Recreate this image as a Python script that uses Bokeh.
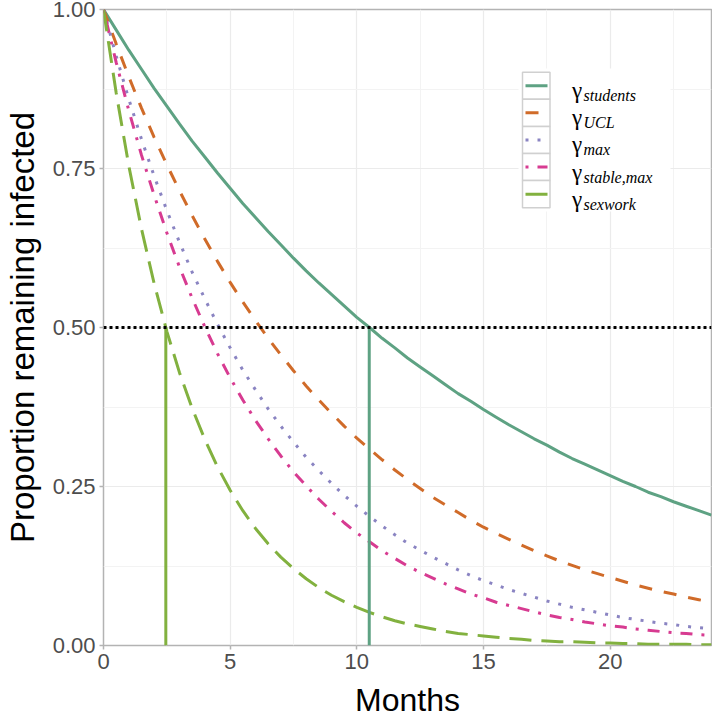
from bokeh.plotting import figure
from bokeh.models import FixedTicker, PrintfTickFormatter, Range1d
from bokeh.embed import file_html
from bokeh.resources import INLINE
from bokeh.core.properties import value

# ---------------- data ----------------
months = [0.0, 0.5, 1.0, 1.5, 2.0, 2.5, 3.0, 3.5, 4.0, 4.5, 5.0, 5.5, 6.0, 6.5,
          7.0, 7.5, 8.0, 8.5, 9.0, 9.5, 10.0, 10.5, 11.0, 11.5, 12.0, 12.5,
          13.0, 13.5, 14.0, 14.5, 15.0, 15.5, 16.0, 16.5, 17.0, 17.5, 18.0,
          18.5, 19.0, 19.5, 20.0, 20.5, 21.0, 21.5, 22.0, 22.5, 23.0, 23.5, 24.0]

students = [1.000, 0.968, 0.936, 0.906, 0.876, 0.848, 0.820, 0.793, 0.768, 0.743,
            0.719, 0.695, 0.673, 0.651, 0.630, 0.609, 0.589, 0.570, 0.552, 0.534,
            0.516, 0.500, 0.483, 0.468, 0.452, 0.438, 0.424, 0.410, 0.396, 0.384,
            0.371, 0.359, 0.347, 0.336, 0.325, 0.315, 0.304, 0.294, 0.285, 0.276,
            0.267, 0.258, 0.250, 0.241, 0.234, 0.226, 0.219, 0.212, 0.205]

ucl = [1.000, 0.946, 0.894, 0.845, 0.799, 0.756, 0.715, 0.676, 0.639, 0.604,
       0.571, 0.540, 0.511, 0.483, 0.457, 0.432, 0.408, 0.386, 0.365, 0.345,
       0.326, 0.309, 0.292, 0.276, 0.261, 0.247, 0.233, 0.221, 0.209, 0.197,
       0.186, 0.176, 0.167, 0.158, 0.149, 0.141, 0.133, 0.126, 0.119, 0.113,
       0.107, 0.101, 0.095, 0.090, 0.085, 0.081, 0.076, 0.072, 0.068]

gmax = [1.000, 0.927, 0.859, 0.796, 0.738, 0.684, 0.634, 0.587, 0.545, 0.505,
        0.468, 0.433, 0.402, 0.372, 0.345, 0.320, 0.296, 0.275, 0.255, 0.236,
        0.219, 0.203, 0.188, 0.174, 0.161, 0.150, 0.139, 0.129, 0.119, 0.110,
        0.102, 0.095, 0.088, 0.082, 0.076, 0.070, 0.065, 0.060, 0.056, 0.052,
        0.048, 0.044, 0.041, 0.038, 0.035, 0.033, 0.030, 0.028, 0.026]

stable_max = [1.000, 0.917, 0.841, 0.771, 0.708, 0.649, 0.595, 0.546, 0.501, 0.459,
              0.421, 0.386, 0.354, 0.325, 0.298, 0.273, 0.251, 0.230, 0.211, 0.193,
              0.177, 0.163, 0.149, 0.137, 0.125, 0.115, 0.106, 0.097, 0.089, 0.081,
              0.075, 0.068, 0.063, 0.058, 0.053, 0.048, 0.044, 0.041, 0.037, 0.034,
              0.031, 0.029, 0.026, 0.024, 0.022, 0.020, 0.019, 0.017, 0.016]

sexwork = [1.000, 0.869, 0.754, 0.655, 0.569, 0.494, 0.429, 0.373, 0.324, 0.281,
           0.244, 0.212, 0.184, 0.160, 0.139, 0.121, 0.105, 0.091, 0.079, 0.069,
           0.060, 0.052, 0.045, 0.039, 0.034, 0.030, 0.026, 0.022, 0.019, 0.017,
           0.015, 0.013, 0.011, 0.010, 0.008, 0.007, 0.006, 0.006, 0.005, 0.004,
           0.004, 0.003, 0.003, 0.002, 0.002, 0.002, 0.002, 0.001, 0.001]

series_subscripts = ["students", "UCL", "max", "stable,max", "sexwork"]
series_values = [students, ucl, gmax, stable_max, sexwork]

half_life_months = [2.46, 10.49]      # sexwork, students
half_life_series = [4, 0]
reference_level = 0.5

x_ticks = [0, 5, 10, 15, 20]
x_minor = [2.5, 7.5, 12.5, 17.5, 22.5]
y_ticks = [0.0, 0.25, 0.5, 0.75, 1.0]
y_minor = [0.125, 0.375, 0.625, 0.875]
x_title = "Months"
y_title = "Proportion remaining infected"

# ---------------- styles ----------------
colors = ["#5ea283", "#d06b29", "#8a84c2", "#d73b91", "#82b13f"]
dashes = ["solid", "13 12", "3 9", "3 9 12 9", "22 10"]
LW = 3

W, H = 712, 720
FL, FR, FT, FB = 103, 1, 9, 75     # frame borders in px
X0, X1, Y0, Y1 = 0, 24, 0, 1
FW = W - FL - FR
FH = H - FT - FB


def dx(px):
    return X0 + (px - FL) / FW * (X1 - X0)


def dy(py):
    return Y0 + (H - FB - py) / FH * (Y1 - Y0)


p = figure(width=W, height=H, x_range=Range1d(X0, X1), y_range=Range1d(Y0, Y1),
           output_backend="svg", toolbar_location=None,
           min_border_left=FL, min_border_right=FR, min_border_top=FT,
           min_border_bottom=FB)
p.styles = {"position": "absolute", "left": "0px", "top": "0px"}
p.background_fill_color = "white"
p.border_fill_color = "white"
p.outline_line_color = "#b3b3b3"
p.outline_line_width = 1.5

# axes
for ax in (p.xaxis[0], p.yaxis[0]):
    ax.axis_line_color = None
    ax.major_tick_line_color = "#b3b3b3"
    ax.major_tick_line_width = 1.5
    ax.major_tick_out = 4
    ax.major_tick_in = 0
    ax.minor_tick_line_color = None
    ax.major_label_text_font = "Liberation Sans"
    ax.major_label_text_font_size = "22px"
    ax.major_label_text_color = "#4d4d4d"
    ax.major_label_standoff = 4
    ax.axis_label_text_font = "Liberation Sans"
    ax.axis_label_text_font_style = "normal"
    ax.axis_label_text_color = "black"

p.xaxis.ticker = FixedTicker(ticks=x_ticks, minor_ticks=x_minor)
p.yaxis.ticker = FixedTicker(ticks=y_ticks, minor_ticks=y_minor)
p.xaxis.formatter = PrintfTickFormatter(format="%d")
p.yaxis.formatter = PrintfTickFormatter(format="%.2f")
p.xaxis.axis_label = x_title
p.yaxis.axis_label = y_title
p.xaxis.axis_label_text_font_size = "32px"
p.yaxis.axis_label_text_font_size = "33px"
p.xaxis.axis_label_standoff = 10
p.yaxis.axis_label_standoff = 9

# grid
for g in (p.xgrid[0], p.ygrid[0]):
    g.grid_line_color = "#ebebeb"
    g.grid_line_width = 1.2
    g.minor_grid_line_color = "#f3f3f3"
    g.minor_grid_line_width = 1

# curves
for vals, c, d in zip(series_values, colors, dashes):
    p.line(months, vals, line_color=c, line_width=LW, line_dash=d)

# half-life verticals
for hl, si in zip(half_life_months, half_life_series):
    p.line([hl, hl], [0, reference_level], line_color=colors[si], line_width=LW)

# 0.5 reference line
p.line([X0, X1], [reference_level, reference_level], line_color="black",
       line_width=3, line_dash="3 3")

# ---------------- manual legend ----------------
p.quad(left=[dx(518)], right=[dx(670)], top=[dy(68)], bottom=[dy(211)],
       fill_color="white", line_color=None)

key_l, key_r = 522, 549.5
key_top0, key_h = 71.7, 27.1
for i, (sub, c, d) in enumerate(zip(series_subscripts, colors, dashes)):
    top = key_top0 + i * key_h
    bot = top + key_h
    cy = (top + bot) / 2
    p.quad(left=[dx(key_l)], right=[dx(key_r)], top=[dy(top)], bottom=[dy(bot)],
           fill_color="white", line_color="#d0d0d0", line_width=1.5)
    p.line([dx(525), dx(547)], [dy(cy), dy(cy)], line_color=c, line_width=LW,
           line_dash=d)
    p.text(x=[dx(571.5)], y=[dy(cy + 5)], text=["\u03b3"],
           text_font=value("Liberation Serif"), text_font_size="23px",
           text_color="black", text_baseline="alphabetic", text_align="left")
    p.text(x=[dx(583)], y=[dy(cy + 10)], text=[sub],
           text_font=value("Liberation Serif"), text_font_size="16px",
           text_font_style="italic", text_color="black",
           text_baseline="alphabetic", text_align="left")

open("out.html", "w").write(file_html(p, INLINE))
